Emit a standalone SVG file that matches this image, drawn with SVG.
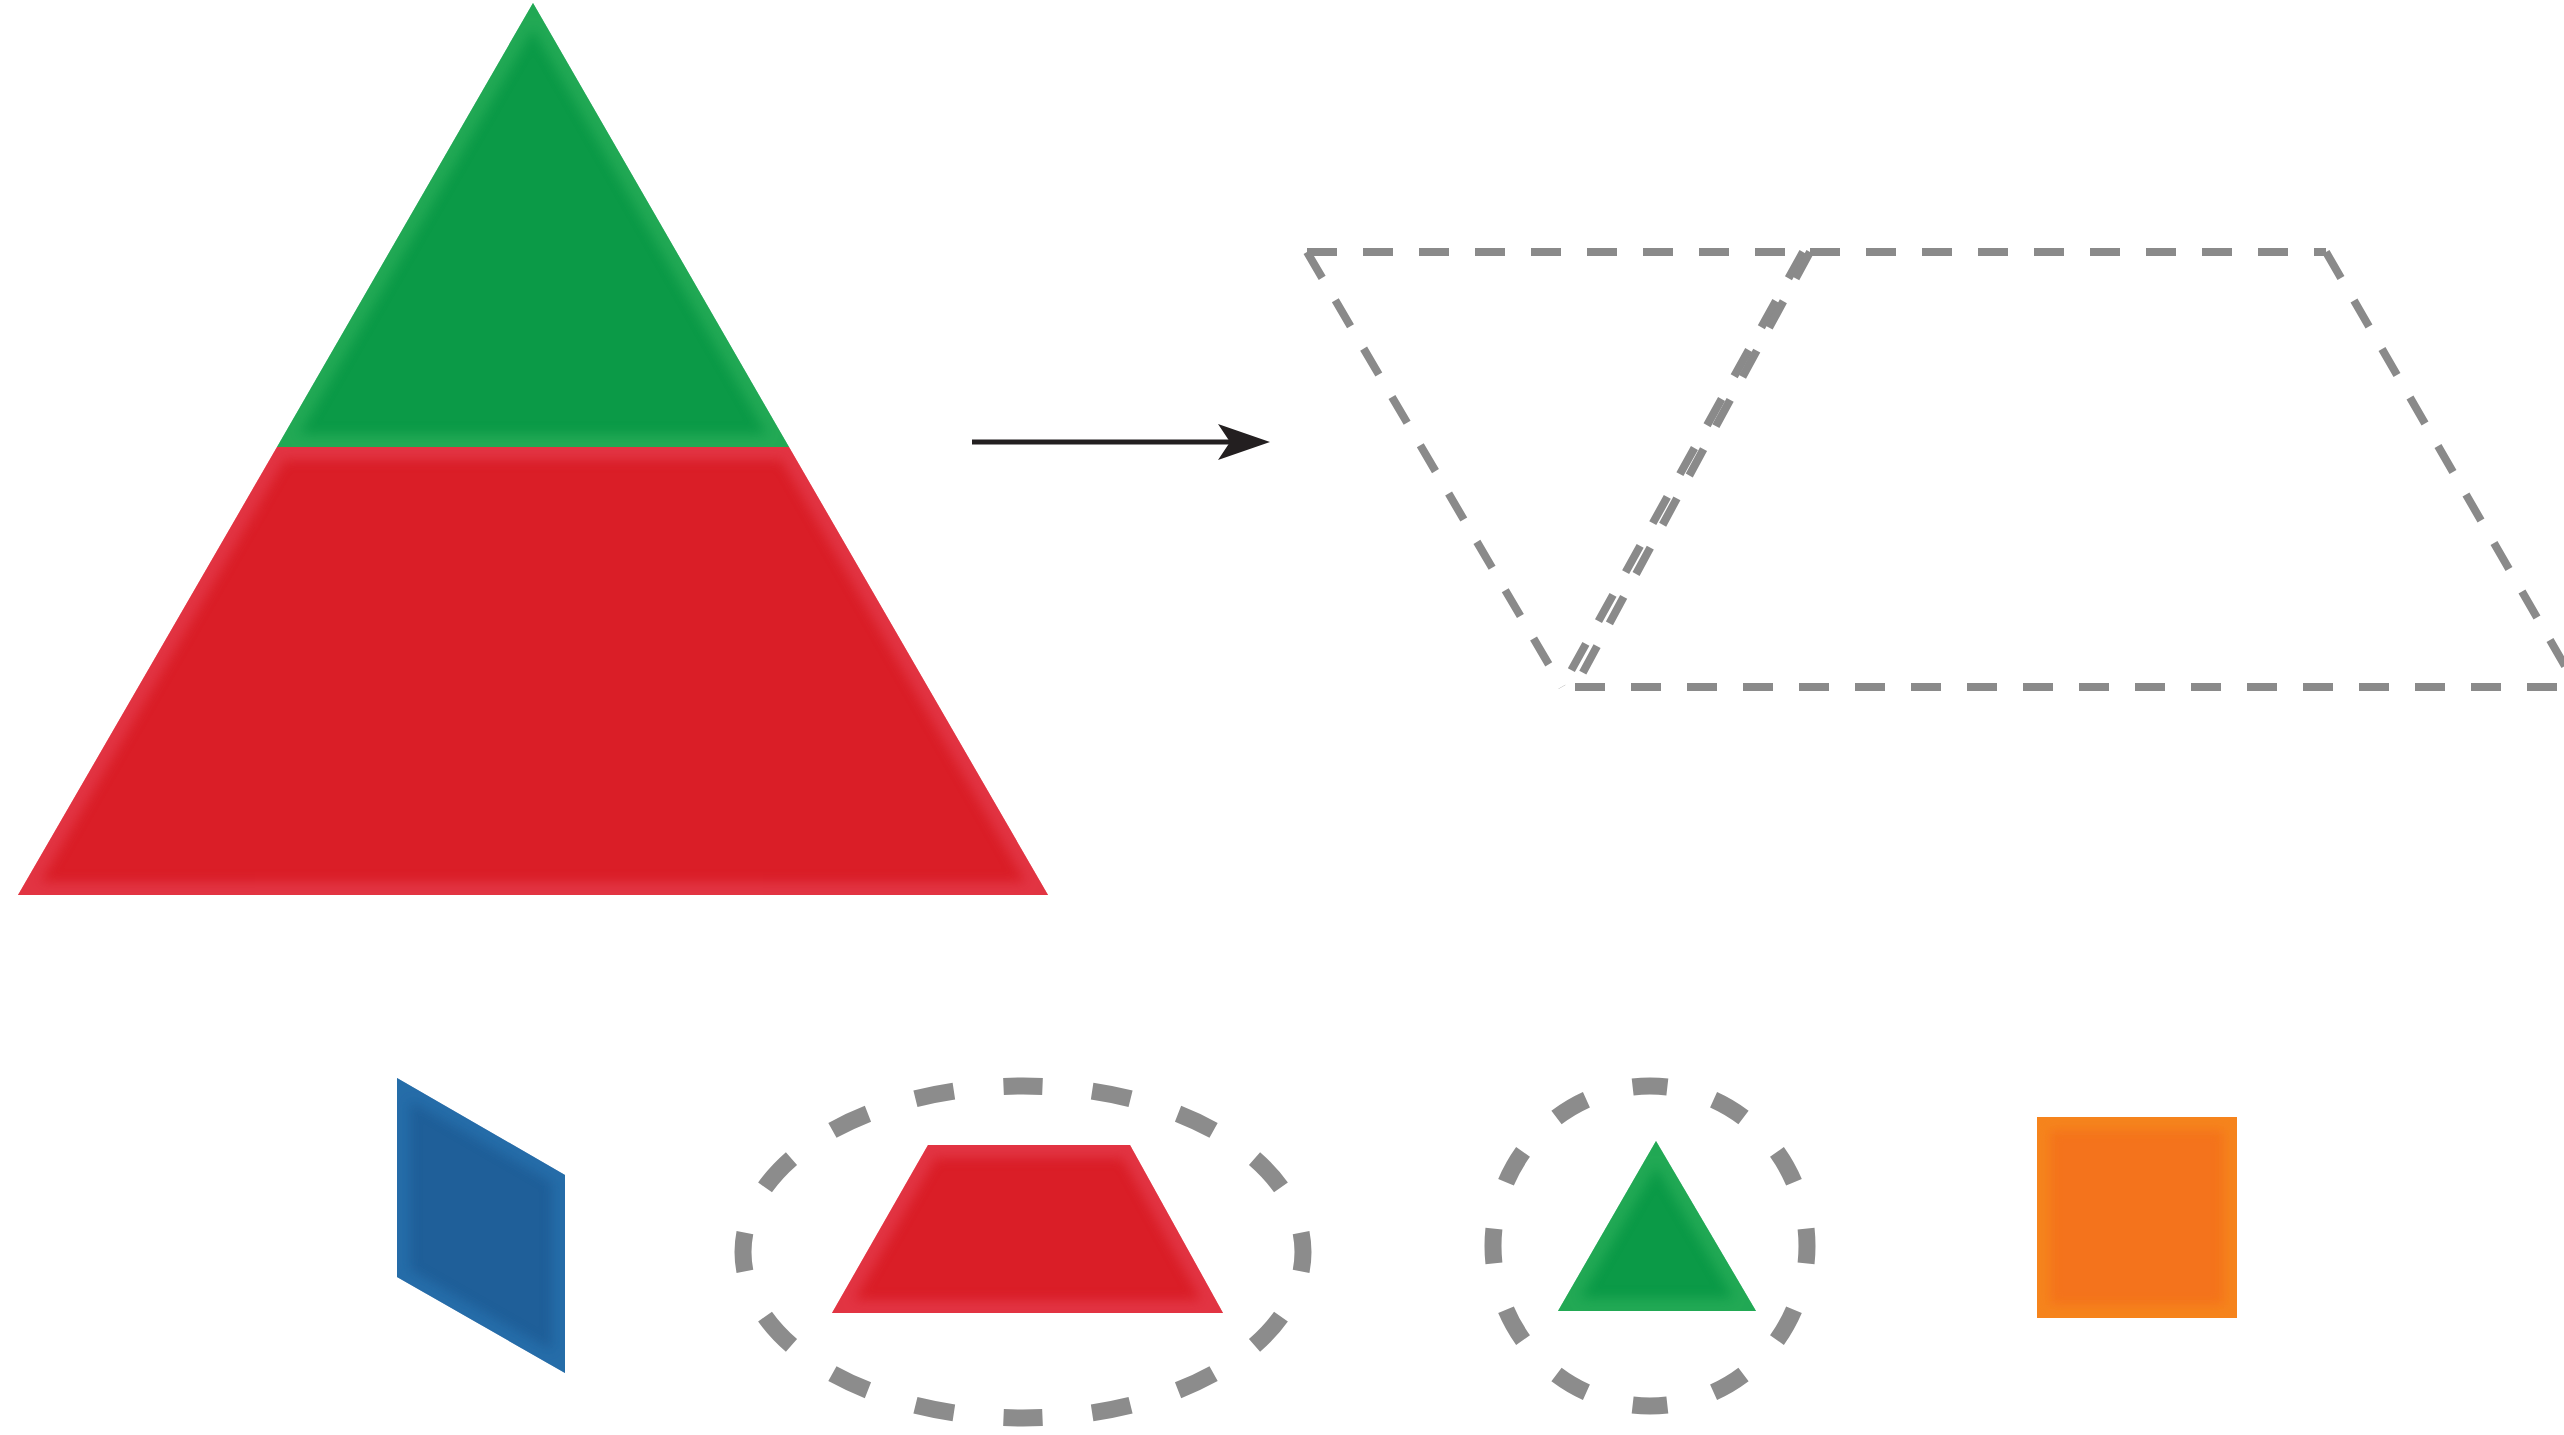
<svg xmlns="http://www.w3.org/2000/svg" width="2564" height="1435" viewBox="0 0 2564 1435">
<style>
.dash{fill:none;stroke:#8a8a8a;stroke-width:8;stroke-dasharray:30 26;stroke-linecap:butt}
.ring{fill:none;stroke:#8c8c8c;stroke-width:17}
.rim{fill:none;stroke-width:26;filter:url(#soft);opacity:0.55}
</style>
<defs>
<filter id="soft" x="-10%" y="-10%" width="120%" height="120%"><feGaussianBlur stdDeviation="6"/></filter>
<clipPath id="cGreenBig"><polygon points="533,3 789,447 277,447"/></clipPath>
<clipPath id="cRedBig"><polygon points="277,447 789,447 1048,895 18,895"/></clipPath>
<clipPath id="cBlue"><polygon points="397,1078 565,1175 565,1373 397,1277"/></clipPath>
<clipPath id="cRed"><polygon points="928,1145 1130,1145 1223,1313 832,1313"/></clipPath>
<clipPath id="cGreen"><polygon points="1656,1141 1756,1311 1558,1311"/></clipPath>
<clipPath id="cOrange"><rect x="2037" y="1117" width="200" height="201"/></clipPath>
<marker id="arr" viewBox="0 0 52 36" refX="52" refY="18" markerWidth="52" markerHeight="36" markerUnits="userSpaceOnUse" orient="auto">
<path d="M0,0 L52,18 L0,36 L12,18 Z" fill="#231f20"/>
</marker>
</defs>
<rect width="2564" height="1435" fill="#ffffff"/>

<g id="big-triangle">
<g id="big-green">
<polygon points="533,3 789,447 277,447" fill="#0b9a47"/>
<g clip-path="url(#cGreenBig)"><polygon class="rim" points="533,3 789,447 277,447" stroke="#35b560"/></g>
</g>
<g id="big-red">
<polygon points="277,447 789,447 1048,895 18,895" fill="#da1e27"/>
<g clip-path="url(#cRedBig)"><polygon class="rim" points="277,447 789,447 1048,895 18,895" stroke="#e8475a"/></g>
</g>
</g>

<g id="connectors">
<path d="M972,442 L1250,442" stroke="#231f20" stroke-width="5" fill="none"/>
<path d="M1230,442 L1270,442" stroke="none" fill="none" marker-end="url(#arr)"/>
</g>

<g id="dashed-outline">
<path class="dash" d="M1307,252 L1803,252 M1307,252 L1562,687 M1803,252 L1562,687"/>
<path class="dash" d="M1810,252 L2326,252 M1810,252 L1575,687 M1575,687 L2580,687 M2326,252 L2580,692"/>
</g>

<g id="blue-rhombus">
<polygon points="397,1078 565,1175 565,1373 397,1277" fill="#1f5f99"/>
<g clip-path="url(#cBlue)"><polygon class="rim" points="397,1078 565,1175 565,1373 397,1277" stroke="#2b78b6" stroke-width="14"/></g>
</g>

<g id="red-trapezoid">
<ellipse class="ring" cx="1023" cy="1252" rx="280" ry="166" pathLength="16" stroke-dasharray="0.44 0.56" stroke-dashoffset="0.22"/>
<polygon points="928,1145 1130,1145 1223,1313 832,1313" fill="#da1e27"/>
<g clip-path="url(#cRed)"><polygon class="rim" points="928,1145 1130,1145 1223,1313 832,1313" stroke="#e8475a" stroke-width="14"/></g>
</g>

<g id="green-triangle">
<ellipse class="ring" cx="1650" cy="1246" rx="157" ry="160" pathLength="12" stroke-dasharray="0.42 0.58" stroke-dashoffset="0.21"/>
<polygon points="1656,1141 1756,1311 1558,1311" fill="#0b9a47"/>
<g clip-path="url(#cGreen)"><polygon class="rim" points="1656,1141 1756,1311 1558,1311" stroke="#35b560" stroke-width="12"/></g>
</g>

<g id="orange-square">
<rect x="2037" y="1117" width="200" height="201" fill="#f4731c"/>
<g clip-path="url(#cOrange)"><rect class="rim" x="2037" y="1117" width="200" height="201" stroke="#f7921e" stroke-width="20"/></g>
</g>
</svg>
